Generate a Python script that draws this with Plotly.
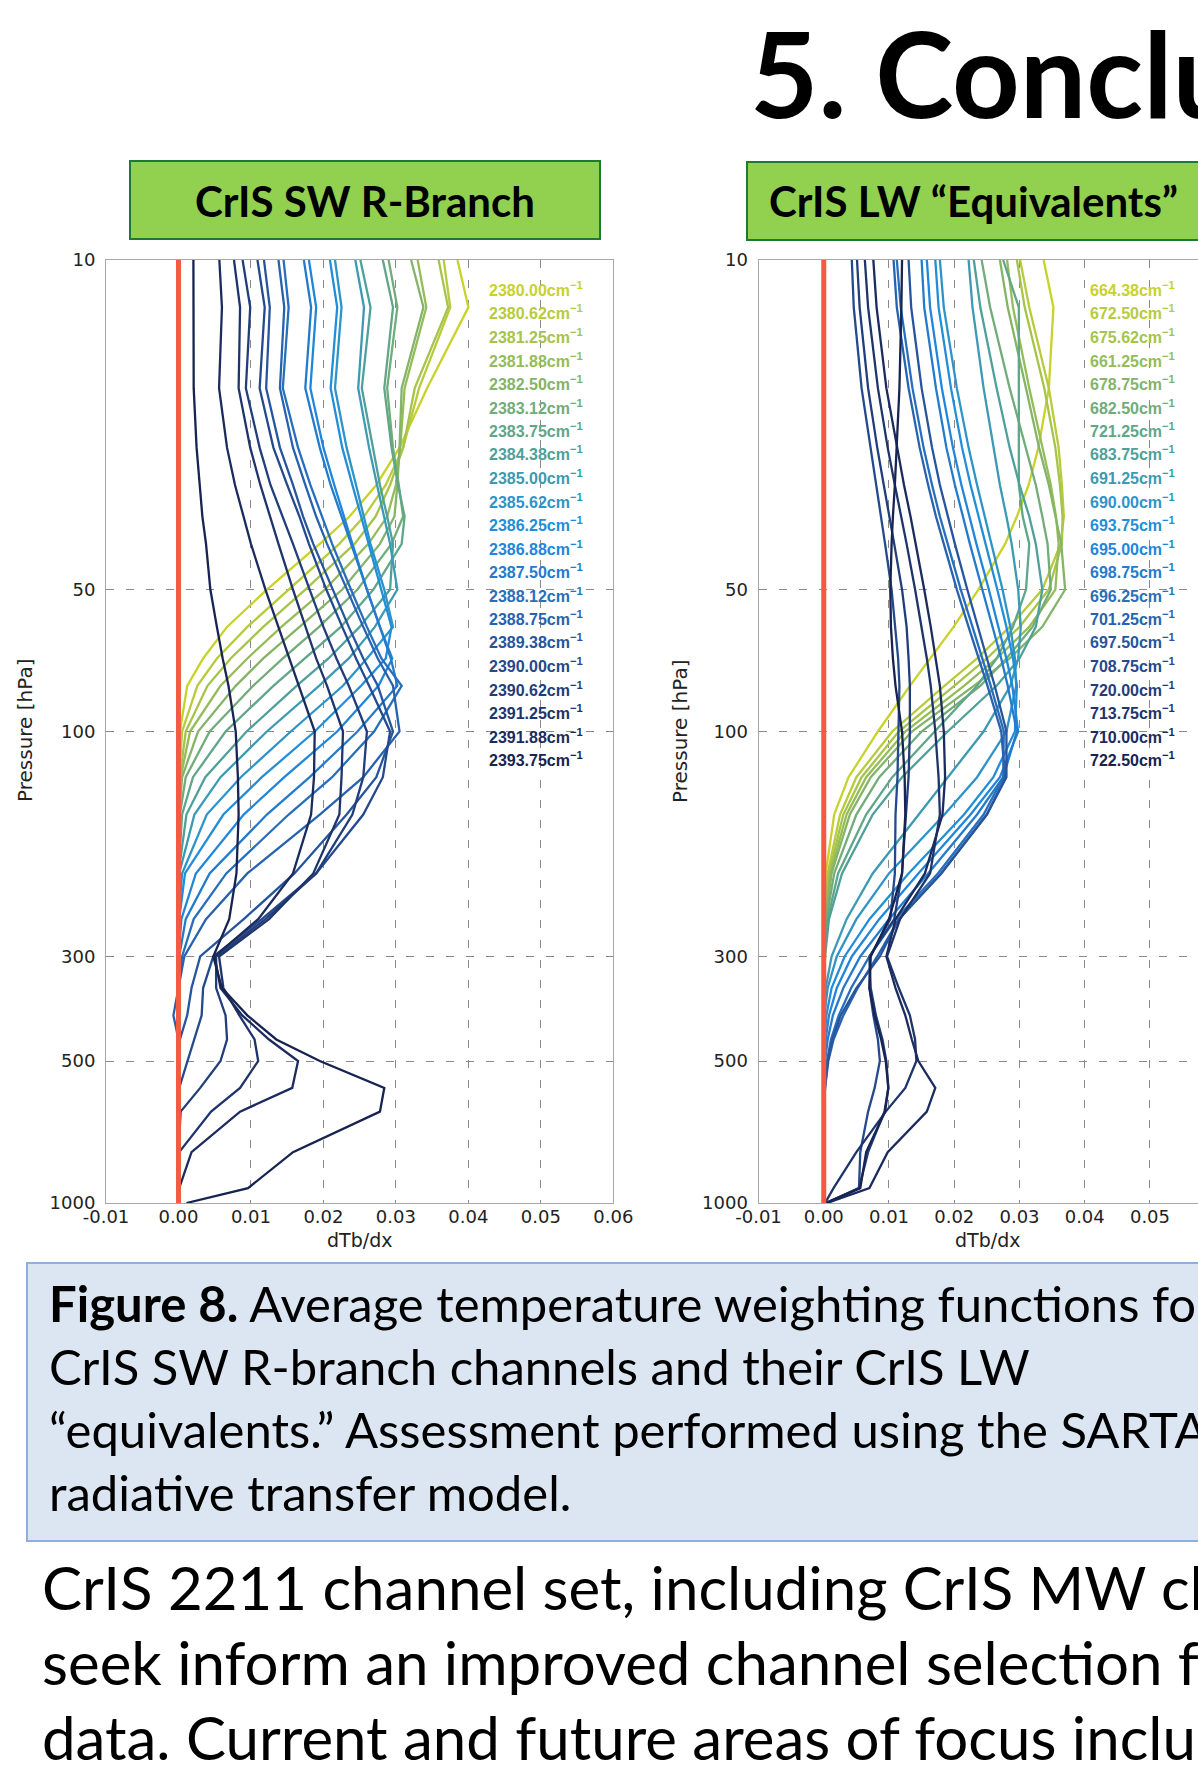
import plotly.graph_objects as go

W, H = 1198, 1782
SCALE = 1e-3  # profile values below are listed in units of 1e-3 (dTb/dx)

PRESSURE_HPA = [10, 12.6, 18.7, 25, 30, 35, 40, 50, 60, 70, 80, 100, 125, 150,
                200, 250, 300, 350, 400, 450, 500, 570, 640, 780, 930, 1000]

SW_WAVENUMBERS = ["2380.00", "2380.62", "2381.25", "2381.88", "2382.50", "2383.12",
                  "2383.75", "2384.38", "2385.00", "2385.62", "2386.25", "2386.88",
                  "2387.50", "2388.12", "2388.75", "2389.38", "2390.00", "2390.62",
                  "2391.25", "2391.88", "2393.75"]

LW_WAVENUMBERS = ["664.38", "672.50", "675.62", "661.25", "678.75", "682.50",
                  "721.25", "683.75", "691.25", "690.00", "693.75", "695.00",
                  "698.75", "696.25", "701.25", "697.50", "708.75", "720.00",
                  "713.75", "710.00", "722.50"]

SW_DTBDX = [
    [38.5, 40.0, 34.3, 30.5, 27.3, 23.6, 19.5, 12.2, 6.7, 3.4, 1.2, 0.2, 0, 0, 0, 0, 0, 0, 0, 0, 0, 0, 0, 0, 0, 0],
    [36.6, 37.5, 33.2, 31.0, 28.6, 25.6, 22.2, 15.2, 9.5, 5.3, 2.6, 0.5, 0.1, 0, 0, 0, 0, 0, 0, 0, 0, 0, 0, 0, 0, 0],
    [35.9, 37.2, 32.6, 31.0, 29.2, 27.2, 24.3, 17.5, 11.7, 7.2, 4.0, 1.0, 0.2, 0, 0, 0, 0, 0, 0, 0, 0, 0, 0, 0, 0, 0],
    [33.0, 34.2, 31.2, 30.6, 30.0, 28.8, 26.2, 20.2, 14.2, 9.5, 5.8, 1.6, 0.3, 0, 0, 0, 0, 0, 0, 0, 0, 0, 0, 0, 0, 0],
    [32.1, 33.8, 30.8, 30.5, 30.2, 29.8, 27.8, 22.6, 16.7, 11.7, 7.9, 2.7, 0.5, 0.1, 0, 0, 0, 0, 0, 0, 0, 0, 0, 0, 0, 0],
    [29.0, 30.2, 28.8, 29.6, 30.4, 31.0, 29.4, 24.7, 19.4, 14.4, 10.3, 4.3, 1.0, 0.2, 0, 0, 0, 0, 0, 0, 0, 0, 0, 0, 0, 0],
    [28.2, 29.6, 28.4, 29.4, 30.3, 31.2, 30.8, 26.9, 22.4, 17.4, 13.1, 6.5, 2.0, 0.5, 0, 0, 0, 0, 0, 0, 0, 0, 0, 0, 0, 0],
    [25.1, 26.5, 25.3, 26.8, 27.8, 28.8, 29.6, 29.2, 25.0, 20.7, 16.3, 9.4, 3.7, 1.1, 0, 0, 0, 0, 0, 0, 0, 0, 0, 0, 0, 0],
    [24.4, 25.6, 24.8, 26.3, 27.4, 28.4, 29.2, 30.2, 27.1, 23.5, 19.4, 12.2, 5.8, 2.2, 0.1, 0, 0, 0, 0, 0, 0, 0, 0, 0, 0, 0],
    [21.6, 22.5, 21.6, 23.2, 24.5, 25.6, 26.5, 28.4, 29.6, 26.0, 22.7, 15.5, 8.6, 3.9, 0.5, 0, 0, 0, 0, 0, 0, 0, 0, 0, 0, 0],
    [20.9, 21.9, 21.0, 22.6, 24.0, 25.2, 26.2, 28.0, 29.4, 28.6, 25.2, 18.8, 11.5, 6.2, 0.9, 0.1, 0, 0, 0, 0, 0, 0, 0, 0, 0, 0],
    [18.0, 19.0, 18.2, 20.0, 21.5, 22.8, 24.0, 26.0, 27.8, 29.5, 27.6, 21.9, 14.6, 9.0, 2.4, 0.4, 0, 0, 0, 0, 0, 0, 0, 0, 0, 0],
    [17.3, 18.3, 17.5, 19.5, 21.0, 22.5, 23.8, 26.0, 27.8, 29.3, 30.2, 24.7, 18.1, 12.2, 4.3, 1.0, 0.1, 0, 0, 0, 0, 0, 0, 0, 0, 0],
    [14.5, 15.2, 14.4, 16.5, 18.2, 19.8, 21.2, 23.8, 26.0, 28.0, 30.8, 27.0, 21.2, 15.2, 6.6, 2.1, 0.5, 0, 0, 0, 0, 0, 0, 0, 0, 0],
    [13.8, 14.6, 14.0, 15.8, 17.5, 19.0, 20.5, 23.2, 25.5, 27.5, 29.6, 30.5, 25.5, 19.5, 9.5, 3.8, 0.8, 0.0, -0.7, 0.0, 0, 0, 0, 0, 0, 0],
    [11.8, 12.6, 12.1, 14.0, 15.8, 17.2, 18.6, 21.3, 23.5, 25.5, 27.5, 29.6, 27.3, 23.2, 16.0, 9.0, 3.0, 1.8, 1.2, 0.2, 0, 0, 0, 0, 0, 0],
    [10.9, 11.9, 11.2, 13.1, 15.0, 16.7, 18.0, 20.4, 22.6, 24.5, 26.3, 29.2, 28.2, 25.5, 19.0, 11.5, 4.8, 3.4, 3.2, 2.2, 1.2, 0.1, 0, 0, 0, 0],
    [8.85, 9.9, 9.3, 11.2, 12.7, 14.4, 15.8, 18.1, 20.0, 21.8, 23.5, 26.0, 25.5, 24.0, 19.0, 12.0, 5.2, 5.2, 6.5, 6.7, 5.8, 3.0, 0.3, 0, 0, 0],
    [7.66, 8.5, 8.3, 9.9, 11.3, 12.6, 13.8, 15.8, 17.5, 19.0, 20.5, 22.7, 22.5, 22.2, 18.6, 12.5, 5.6, 6.2, 8.4, 10.5, 11.0, 8.5, 4.5, 0.1, 0, 0],
    [5.64, 6.0, 5.6, 6.7, 7.8, 9.0, 10.0, 12.0, 13.8, 15.3, 16.7, 18.8, 18.7, 18.3, 15.8, 11.0, 5.0, 5.8, 8.8, 12.5, 16.5, 15.7, 8.5, 1.8, 0.1, 0],
    [2.06, 2.1, 2.1, 2.5, 2.9, 3.3, 3.8, 4.4, 5.3, 6.1, 6.9, 7.9, 8.2, 8.3, 8.0, 7.0, 4.8, 6.0, 9.5, 13.5, 19.5, 28.4, 27.8, 15.8, 9.6, 1.1],
]

LW_DTBDX = [
    [33.7, 35.2, 34.5, 32.9, 31.4, 29.6, 27.8, 23.7, 19.9, 16.3, 13.2, 8.3, 3.8, 1.6, 0.3, 0, 0, 0, 0, 0, 0, 0, 0, 0, 0, 0],
    [30.1, 31.5, 34.5, 36.0, 36.5, 36.8, 36.3, 33.5, 28.5, 23.5, 18.5, 10.5, 5.0, 2.5, 0.6, 0.1, 0, 0, 0, 0, 0, 0, 0, 0, 0, 0],
    [29.6, 30.8, 33.8, 35.5, 36.2, 36.6, 36.5, 34.5, 30.0, 25.0, 20.0, 11.5, 5.8, 3.0, 0.8, 0.1, 0, 0, 0, 0, 0, 0, 0, 0, 0, 0],
    [28.1, 29.0, 31.5, 33.5, 34.8, 35.6, 36.0, 35.5, 31.5, 26.5, 21.5, 12.5, 6.5, 3.5, 1.0, 0.2, 0, 0, 0, 0, 0, 0, 0, 0, 0, 0],
    [27.0, 28.2, 31.0, 33.0, 34.5, 35.5, 36.4, 37.0, 33.5, 28.5, 23.0, 13.5, 7.2, 4.0, 1.2, 0.3, 0, 0, 0, 0, 0, 0, 0, 0, 0, 0],
    [24.2, 25.5, 28.5, 31.0, 32.5, 33.5, 34.3, 34.8, 32.0, 28.0, 24.0, 15.0, 8.5, 5.0, 1.6, 0.4, 0.1, 0, 0, 0, 0, 0, 0, 0, 0, 0],
    [27.5, 29.9, 29.9, 29.9, 29.9, 30.5, 31.5, 31.0, 29.0, 26.5, 23.5, 17.0, 10.5, 6.5, 2.2, 0.6, 0.1, 0, 0, 0, 0, 0, 0, 0, 0, 0],
    [23.0, 24.0, 26.5, 28.5, 30.0, 31.5, 32.5, 33.5, 32.5, 30.0, 26.5, 19.0, 12.0, 7.5, 2.8, 0.8, 0.2, 0, 0, 0, 0, 0, 0, 0, 0, 0],
    [22.2, 22.8, 24.5, 26.0, 27.0, 28.0, 28.8, 29.8, 30.2, 29.8, 28.6, 24.5, 19.0, 14.5, 7.5, 3.5, 1.2, 0.3, 0, 0, 0, 0, 0, 0, 0, 0],
    [17.8, 18.4, 20.4, 22.2, 23.5, 24.7, 25.7, 27.4, 28.6, 29.3, 29.5, 28.0, 23.5, 18.5, 10.0, 5.0, 2.0, 0.6, 0.1, 0, 0, 0, 0, 0, 0, 0],
    [17.1, 17.6, 19.5, 21.2, 22.5, 23.7, 24.8, 26.6, 28.0, 29.0, 29.6, 29.3, 26.0, 21.5, 13.0, 7.0, 3.2, 1.2, 0.4, 0.1, 0, 0, 0, 0, 0, 0],
    [15.8, 16.3, 18.1, 19.8, 21.1, 22.3, 23.4, 25.3, 26.8, 28.0, 28.9, 29.8, 27.0, 22.5, 14.5, 8.5, 4.3, 2.0, 0.8, 0.3, 0.1, 0, 0, 0, 0, 0],
    [15.0, 15.4, 17.2, 18.8, 20.1, 21.3, 22.4, 24.3, 25.9, 27.2, 28.2, 29.6, 27.5, 23.5, 16.0, 10.0, 5.6, 3.0, 1.4, 0.6, 0.2, 0, 0, 0, 0, 0],
    [11.2, 11.8, 13.6, 15.3, 16.6, 17.8, 19.0, 21.0, 22.8, 24.3, 25.6, 27.6, 27.5, 24.5, 17.5, 11.0, 7.0, 4.2, 2.3, 1.1, 0.5, 0.1, 0, 0, 0, 0],
    [10.7, 11.2, 13.0, 14.7, 16.0, 17.2, 18.4, 20.4, 22.2, 23.8, 25.1, 27.2, 27.8, 25.0, 18.0, 11.5, 8.2, 5.2, 3.0, 1.5, 0.7, 0.2, 0, 0, 0, 0],
    [13.0, 13.4, 15.0, 16.6, 17.8, 19.0, 20.1, 22.0, 23.6, 25.0, 26.2, 28.0, 28.0, 25.0, 18.0, 11.5, 8.6, 5.0, 2.6, 1.3, 0.6, 0.2, 0, 0, 0, 0],
    [4.3, 4.6, 5.8, 7.2, 8.0, 8.8, 9.4, 10.4, 11.0, 11.4, 11.6, 11.5, 11.3, 11.0, 10.9, 10.2, 7.1, 7.0, 7.6, 8.3, 8.6, 7.8, 6.8, 5.6, 5.4, 0.5],
    [5.1, 5.5, 6.8, 8.2, 9.2, 10.1, 10.8, 12.0, 12.7, 13.0, 13.2, 13.2, 13.0, 12.6, 12.0, 10.8, 7.0, 7.2, 8.0, 9.0, 9.6, 9.9, 9.3, 6.8, 5.4, 0.3],
    [6.3, 6.8, 8.3, 9.8, 10.9, 11.9, 12.7, 14.0, 15.0, 15.8, 16.4, 17.1, 17.6, 17.8, 16.3, 11.7, 9.7, 11.5, 13.2, 14.0, 14.2, 12.5, 9.5, 5.0, 1.5, 0.2],
    [7.6, 8.1, 9.6, 11.2, 12.3, 13.3, 14.1, 15.4, 16.4, 17.2, 17.8, 18.4, 18.6, 18.2, 15.5, 11.0, 9.6, 11.0, 12.5, 13.5, 14.5, 17.1, 15.8, 9.8, 7.0, 0.5],
    [12.0, 11.9, 11.6, 11.2, 10.9, 10.6, 10.4, 10.2, 10.3, 10.6, 11.0, 12.0, 12.4, 12.5, 12.0, 10.0, 7.2, 7.0, 7.8, 8.8, 9.5, 9.9, 9.4, 6.5, 5.6, 0.3],
]

LINE_COLORS = ["#c8d22a", "#b7cb3c", "#a6c44a", "#95bc58", "#84b468", "#72ac78",
               "#60a688", "#4fa09a", "#3c9ab2", "#2e94c8", "#238ed8", "#2186da",
               "#247bcc", "#276ebd", "#2862ae", "#27559d", "#24498c", "#213e7b",
               "#1e346b", "#1b2b5e", "#172350"]
ZERO_COLOR = "#f25a43"

X_TICKS = [-0.01, 0.0, 0.01, 0.02, 0.03, 0.04, 0.05, 0.06]
X_TICK_TEXT = ["-0.01", "0.00", "0.01", "0.02", "0.03", "0.04", "0.05", "0.06"]
Y_TICKS = [10, 50, 100, 300, 500, 1000]
Y_TICK_TEXT = ["10", "50", "100", "300", "500", "1000"]

TITLE = "5. Conclusions"
PANEL_TITLES = ["CrIS SW R-Branch", "CrIS LW \u201cEquivalents\u201d"]
CAPTION = ["<b>Figure 8.</b> Average temperature weighting functions for the",
           "CrIS SW R-branch channels and their CrIS LW",
           "\u201cequivalents.\u201d Assessment performed using the SARTA",
           "radiative transfer model."]
BODY = ["CrIS 2211 channel set, including CrIS MW channels, to",
        "seek inform an improved channel selection for CrIS",
        "data. Current and future areas of focus include the"]


def px(x):
    return x / W


def py(y):
    return 1 - y / H


fig = go.Figure()

for axis_x, axis_y, table in (("x", "y", SW_DTBDX), ("x2", "y2", LW_DTBDX)):
    for i, row in enumerate(table):
        fig.add_trace(go.Scatter(
            x=[v * SCALE for v in row], y=PRESSURE_HPA, mode="lines",
            line=dict(color=LINE_COLORS[i], width=2.3),
            xaxis=axis_x, yaxis=axis_y, hoverinfo="skip"))
    fig.add_trace(go.Scatter(
        x=[0, 0], y=[Y_TICKS[0], Y_TICKS[-1]], mode="lines",
        line=dict(color=ZERO_COLOR, width=5), xaxis=axis_x, yaxis=axis_y,
        hoverinfo="skip"))

tick_font = dict(family="DejaVu Sans", size=18, color="#222222")
grid = dict(showgrid=True, gridcolor="#8a8a8a", gridwidth=1, griddash="8px,12px",
            zeroline=False, showline=True, linecolor="#a8a8a8", linewidth=1,
            ticks="", tickfont=tick_font, automargin=False)
ydom = [py(1203), py(260)]

fig.update_layout(
    width=W, height=H, autosize=False,
    margin=dict(l=0, r=0, t=0, b=0, pad=0, autoexpand=False),
    paper_bgcolor="white", plot_bgcolor="white", showlegend=False,
    xaxis=dict(domain=[px(106), px(613.3)], range=[-0.01, 0.06], anchor="y",
               tickvals=X_TICKS, ticktext=X_TICK_TEXT, mirror=True,
               ticklabelstandoff=-3, **grid),
    yaxis=dict(domain=ydom, type="log", range=[3, 1], anchor="x",
               tickvals=Y_TICKS, ticktext=Y_TICK_TEXT, mirror=True,
               ticklabelstandoff=6, **grid),
    xaxis2=dict(domain=[px(758.5), 1.0], range=[-0.01, 0.05736], anchor="y2",
                tickvals=X_TICKS, ticktext=X_TICK_TEXT, mirror=True,
                ticklabelstandoff=-3, **grid),
    yaxis2=dict(domain=ydom, type="log", range=[3, 1], anchor="x2",
                tickvals=Y_TICKS, ticktext=Y_TICK_TEXT, mirror=False,
                ticklabelstandoff=6, **grid),
)

shapes = [
    dict(type="rect", xref="paper", yref="paper", x0=px(130), x1=px(600),
         y0=py(239), y1=py(161), fillcolor="#92d050",
         line=dict(color="#1d7a35", width=2), layer="below"),
    dict(type="rect", xref="paper", yref="paper", x0=px(747), x1=px(1210),
         y0=py(240), y1=py(162), fillcolor="#92d050",
         line=dict(color="#1d7a35", width=2), layer="below"),
    dict(type="rect", xref="paper", yref="paper", x0=px(27), x1=px(1210),
         y0=py(1541), y1=py(1263), fillcolor="#dce6f2",
         line=dict(color="#8eb0dc", width=2), layer="below"),
]
fig.update_layout(shapes=shapes)

ann = []
ann.append(dict(text="<b>" + TITLE + "</b>", x=px(748), y=py(73), xanchor="left",
                yanchor="middle", font=dict(family="Lato", size=118, color="black")))
ann.append(dict(text="<b>" + PANEL_TITLES[0] + "</b>", x=px(365), y=py(201),
                xanchor="center", yanchor="middle",
                font=dict(family="Lato", size=42, color="black")))
ann.append(dict(text="<b>" + PANEL_TITLES[1] + "</b>", x=px(767), y=py(201),
                xanchor="left", yanchor="middle",
                font=dict(family="Lato", size=42, color="black")))

for j, line in enumerate(CAPTION):
    ann.append(dict(text=line, x=px(47), y=py(1303 + 63 * j), xanchor="left",
                    yanchor="middle", font=dict(family="Lato", size=49, color="black")))
for j, line in enumerate(BODY):
    ann.append(dict(text=line, x=px(40), y=py(1587 + 75 * j), xanchor="left",
                    yanchor="middle", font=dict(family="Lato", size=60, color="black")))

label_font = "Liberation Sans"
for i in range(21):
    yl = py(289 + i * 23.5)
    ann.append(dict(text=SW_WAVENUMBERS[i] + "cm<sup>\u22121</sup>",
                    x=px(487), y=yl, xanchor="left", yanchor="middle",
                    font=dict(family=label_font, size=16, weight=700,
                              color=LINE_COLORS[i])))
    ann.append(dict(text=LW_WAVENUMBERS[i] + "cm<sup>\u22121</sup>",
                    x=px(1088), y=yl, xanchor="left", yanchor="middle",
                    font=dict(family=label_font, size=16, weight=700,
                              color=LINE_COLORS[i])))

ann.append(dict(text="dTb/dx", x=px(359.5), y=py(1240), xanchor="center",
                yanchor="middle", font=dict(family="DejaVu Sans", size=19, color="#222222")))
ann.append(dict(text="dTb/dx", x=px(987), y=py(1240), xanchor="center",
                yanchor="middle", font=dict(family="DejaVu Sans", size=19, color="#222222")))
ann.append(dict(text="Pressure [hPa]", x=px(25), y=py(731), xanchor="center",
                yanchor="middle", textangle=-90,
                font=dict(family="DejaVu Sans", size=20, color="#222222")))
ann.append(dict(text="Pressure [hPa]", x=px(680), y=py(731), xanchor="center",
                yanchor="middle", textangle=-90,
                font=dict(family="DejaVu Sans", size=20, color="#222222")))

for a in ann:
    a.update(xref="paper", yref="paper", showarrow=False)
fig.update_layout(annotations=ann)

fig.write_html("out.html")
